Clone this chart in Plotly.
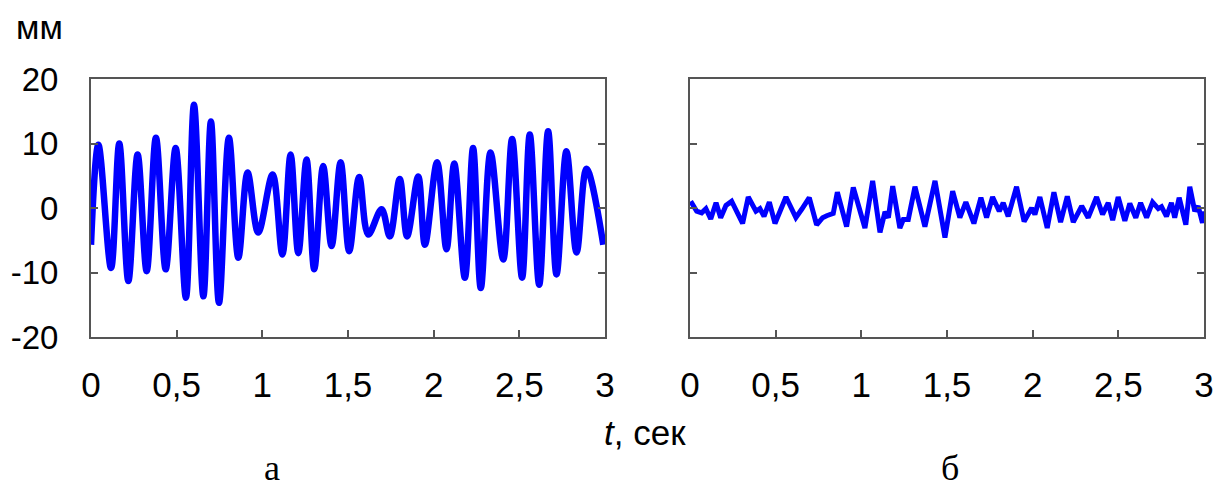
import plotly.graph_objects as go
from plotly.subplots import make_subplots

# Panel "а": extrema of the oscillation (t in seconds, displacement in mm)
t_a = [0.0, 0.043, 0.117, 0.165, 0.218, 0.272, 0.325, 0.379, 0.436, 0.494, 0.554,
       0.601, 0.656, 0.700, 0.747, 0.805, 0.860, 0.914, 0.976, 1.060, 1.117, 1.165,
       1.210, 1.258, 1.303, 1.355, 1.404, 1.457, 1.507, 1.565, 1.618, 1.696, 1.744,
       1.802, 1.845, 1.910, 1.949, 2.020, 2.075, 2.120, 2.182, 2.230, 2.275, 2.332,
       2.406, 2.458, 2.516, 2.561, 2.616, 2.668, 2.717, 2.775, 2.834, 2.892, 2.990]
v_a = [-5.7, 9.8, -9.3, 10.0, -11.3, 8.3, -9.8, 10.9, -9.5, 9.3, -13.9,
       16.0, -13.7, 13.4, -14.7, 10.9, -7.7, 5.5, -3.8, 5.2, -7.2, 8.3,
       -7.0, 7.5, -9.5, 6.5, -5.9, 7.1, -6.7, 4.8, -4.1, -0.2, -4.4,
       4.5, -4.4, 4.9, -5.7, 7.1, -6.4, 6.9, -10.8, 9.3, -12.4, 8.6,
       -8.0, 10.7, -10.8, 11.4, -11.9, 11.9, -10.3, 8.8, -6.9, 6.1, -5.7]

# Panel "б"
t_b = [0.004, 0.039, 0.068, 0.093, 0.121, 0.152, 0.179, 0.210, 0.243, 0.272, 0.307,
       0.340, 0.385, 0.408, 0.432, 0.463, 0.496, 0.560, 0.618, 0.652, 0.696, 0.739,
       0.774, 0.798, 0.836, 0.860, 0.914, 0.953, 1.021, 1.066, 1.109, 1.138, 1.158,
       1.183, 1.225, 1.245, 1.274, 1.313, 1.371, 1.430, 1.488, 1.533, 1.575, 1.610,
       1.657, 1.698, 1.731, 1.766, 1.805, 1.828, 1.857, 1.906, 1.950, 1.994, 2.013,
       2.042, 2.085, 2.124, 2.163, 2.202, 2.237, 2.286, 2.324, 2.373, 2.408, 2.441,
       2.467, 2.499, 2.538, 2.567, 2.602, 2.630, 2.665, 2.700, 2.733, 2.752, 2.781,
       2.810, 2.829, 2.855, 2.894, 2.917, 2.946, 2.966, 2.991, 3.000]
v_b = [1.05, -0.5, -0.75, -0.1, -1.7, 0.8, -1.5, 0.4, 1.05, -0.5, -2.4,
       1.7, -0.5, -0.1, -1.3, 0.9, -2.4, 1.7, -1.5, -0.2, 1.6, -2.6,
       -1.5, -1.2, -0.85, 2.45, -2.9, 3.2, -3.1, 4.2, -3.8, -0.6, -1.5,
       3.4, -3.1, -1.8, -1.8, 3.3, -2.9, 4.2, -4.6, 2.6, -1.5, 0.9,
       -2.4, 1.6, -1.5, 1.7, -0.5, 0.8, -1.3, 3.3, -2.1, 0.0, -1.0,
       1.7, -3.1, 2.45, -2.2, 1.8, -2.2, 0.3, -1.5, 1.7, -1.0, 0.8,
       -1.9, 1.7, -2.0, 0.7, -1.5, 0.8, -1.5, 0.9, -0.1, 0.2, -1.3,
       0.8, -1.5, 1.6, -2.6, 3.3, -0.5, 0.3, -2.3, -0.5]

x_ticks = [0, 0.5, 1, 1.5, 2, 2.5, 3]
x_ticktext = ["0", "0,5", "1", "1,5", "2", "2,5", "3"]
y_ticks = [-20, -10, 0, 10, 20]
y_ticktext = ["-20", "-10", "0", "10", "20"]

W, H = 1215, 493
fig = make_subplots(rows=1, cols=2)

blue = "#0000FF"
fig.add_trace(go.Scatter(x=t_a, y=v_a, mode="lines",
                         line=dict(color=blue, width=6.5, shape="spline", smoothing=1.0),
                         showlegend=False), row=1, col=1)
fig.add_trace(go.Scatter(x=t_b, y=v_b, mode="lines",
                         line=dict(color=blue, width=5),
                         showlegend=False), row=1, col=2)

ydom = [1 - 337 / H, 1 - 79 / H]
axcol = "#555555"
sans = "Liberation Sans, Arial"
tickfont_x = dict(family=sans, size=35, color="black")
tickfont_y = dict(family=sans, size=33, color="black")

common_x = dict(range=[0, 3], tickvals=x_ticks, ticktext=x_ticktext, ticks="inside",
                ticklen=7, tickwidth=2, tickcolor=axcol, showline=True, linecolor=axcol,
                linewidth=2, mirror=True, showgrid=False, zeroline=False,
                tickfont=tickfont_x, ticklabelstandoff=16, automargin=False)
common_y = dict(range=[-20, 20], tickvals=y_ticks, ticktext=y_ticktext, ticks="inside",
                ticklen=7, tickwidth=2, tickcolor=axcol, showline=True, linecolor=axcol,
                linewidth=2, mirror="ticks", showgrid=False, zeroline=False,
                tickfont=tickfont_y, domain=ydom, automargin=False)

fig.update_xaxes(domain=[91 / W, 605 / W], **common_x, row=1, col=1)
fig.update_xaxes(domain=[690 / W, 1204 / W], **common_x, row=1, col=2)
fig.update_yaxes(**common_y, ticklabelstandoff=24, row=1, col=1)
fig.update_yaxes(**common_y, showticklabels=False, row=1, col=2)

annos = [
    dict(text="мм", x=39 / W, y=1 - 27 / H, font=dict(family=sans, size=34, color="black")),
    dict(text="<i>t</i>, сек", x=645 / W, y=1 - 432 / H, font=dict(family=sans, size=35, color="black")),
    dict(text="а", x=272 / W, y=1 - 468 / H, font=dict(family="Liberation Serif, Times New Roman", size=36, color="black")),
    dict(text="б", x=950 / W, y=1 - 468 / H, font=dict(family="Liberation Serif, Times New Roman", size=36, color="black")),
]
for a in annos:
    fig.add_annotation(xref="paper", yref="paper", showarrow=False,
                       xanchor="center", yanchor="middle", **a)

fig.update_layout(width=W, height=H, margin=dict(l=0, r=0, t=0, b=0),
                  plot_bgcolor="white", paper_bgcolor="white",
                  font=dict(family=sans, color="black"))

fig.write_html("out.html")
